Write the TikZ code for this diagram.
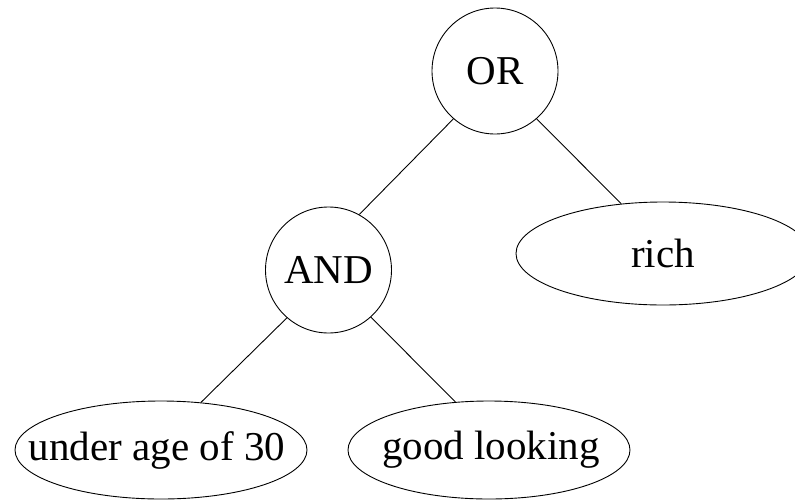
\documentclass[tikz,border=0pt]{standalone}
\usepackage{fontspec}
\setmainfont{Liberation Serif}
\usetikzlibrary{shapes.geometric}
\begin{document}
\begin{tikzpicture}[x=1pt,y=-1pt,
  every node/.style={font=\fontsize{41}{49}\selectfont, inner sep=0pt, line width=0.9pt},
  gate/.style={draw, circle, minimum size=126pt},
  leaf/.style={draw, ellipse},
  txt/.style={draw=none},
  edge/.style={line width=0.9pt}]
\useasboundingbox (0,0) rectangle (795,501);
\clip (0,0) rectangle (795,501);
\node[gate] (or) at (495,71) {OR};
\node[gate] (and) at (328.5,270) {AND};
\node[leaf, minimum width=294pt, minimum height=103pt, label={[txt]center:rich}] (rich) at (663,253.5) {};
\node[leaf, minimum width=292pt, minimum height=98pt, label={[txt, xshift=-4pt]center:under age of 30}] (age) at (161,450) {};
\node[leaf, minimum width=282pt, minimum height=98pt, label={[txt, xshift=2pt]center:good looking}] (good) at (489,450) {};
\draw[edge] (or.229) -- (and.61);
\draw[edge] (or.311) -- (rich.130);
\draw[edge] (and.229) -- (age.50);
\draw[edge] (and.312) -- (good.125);
\end{tikzpicture}
\end{document}
